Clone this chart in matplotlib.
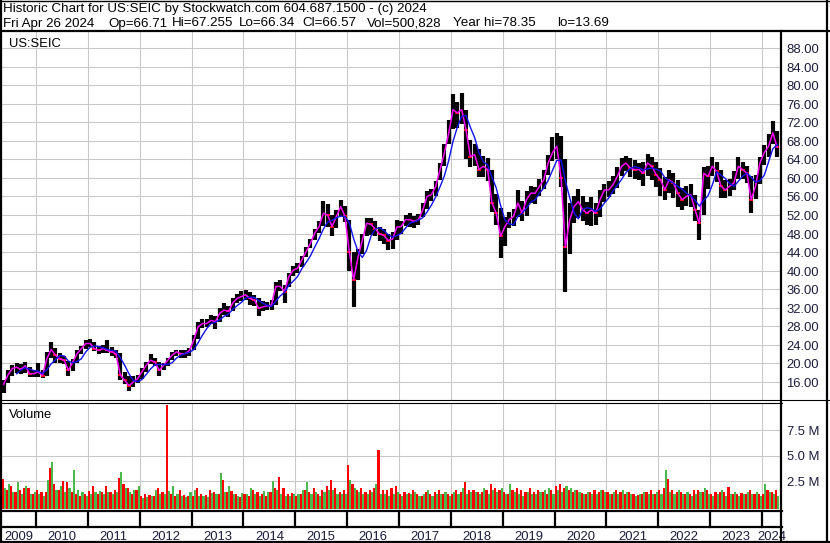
import numpy as np
import pandas as pd
import matplotlib
matplotlib.use("Agg")
import matplotlib.pyplot as plt
from matplotlib.lines import Line2D

plt.rcParams['font.family'] = ['Liberation Sans', 'DejaVu Sans']

W, H = 830, 543

# monthly bars, May 2009 .. Apr 2024
first_month = "2009-05"
close = [15.5, 17.5, 18.9, 19.2, 18.7, 19.5, 17.8, 17.8,
         18.2, 17.4, 21.0, 23.0, 21.8, 21.0, 20.7, 18.5, 20.3, 22.1, 23.2, 24.3,
         24.3, 23.2, 22.8, 23.2, 22.8, 22.5, 22.1, 17.5, 16.4, 15.2, 16.0, 16.7,
         18.2, 19.6, 20.7, 20.3, 18.5, 19.6, 20.7, 21.8, 22.5, 22.1, 22.1, 22.8,
         25.0, 27.9, 28.6, 28.6, 29.3, 29.0, 30.8, 31.5, 31.2, 33.0, 34.0, 34.4,
         34.8, 34.0, 33.7, 31.9, 32.2, 32.4, 32.6, 36.6, 36.6, 35.5, 38.7, 40.1,
         40.5, 42.3, 44.1, 45.9, 48.1, 49.5, 52.4, 52.0, 49.5, 51.7, 53.8, 51.7,
         44.0, 38.0, 42.9, 46.5, 50.2, 50.0, 49.0, 47.9, 47.6, 46.5, 46.8, 49.4,
         49.5, 51.0, 51.0, 50.6, 51.0, 53.1, 56.0, 56.4, 58.2, 61.8, 65.4, 69.7,
         74.7, 74.0, 74.7, 70.4, 64.6, 65.0, 61.8, 62.5, 61.8, 54.6, 52.4, 47.4,
         49.5, 51.0, 51.7, 54.6, 52.4, 55.3, 56.7, 56.7, 58.2, 59.6, 63.2, 65.4,
         66.8, 60.0, 45.0, 51.0, 53.8, 54.9, 53.1, 52.4, 53.1, 52.4, 55.3, 57.4,
         57.4, 58.5, 60.3, 62.5, 63.2, 62.1, 61.8, 61.8, 61.0, 63.2, 62.5, 60.7,
         59.6, 57.4, 59.6, 58.9, 56.7, 55.3, 56.0, 56.4, 53.1, 50.2, 61.0, 60.3,
         62.5, 61.4, 58.2, 57.4, 58.2, 58.9, 62.5, 61.8, 61.0, 55.3, 58.2, 63.2,
         65.4, 66.8, 69.7, 66.6]
high = [16.5, 18.5, 19.6, 20.0, 19.8, 20.4, 19.2, 18.6,
        20.0, 18.6, 22.5, 24.6, 23.4, 22.2, 21.6, 20.5, 21.0, 22.8, 23.8, 25.0,
        25.2, 24.6, 23.8, 24.0, 25.0, 23.6, 23.0, 22.2, 18.2, 17.4, 17.2, 17.6,
        19.0, 20.4, 22.0, 21.2, 20.4, 20.2, 21.2, 22.4, 23.0, 23.0, 22.8, 23.4,
        26.2, 29.0, 29.6, 29.6, 30.4, 30.2, 32.0, 33.0, 32.4, 34.0, 35.0, 35.6,
        35.8, 35.4, 34.8, 34.0, 33.4, 33.2, 33.6, 37.6, 38.0, 37.0, 39.6, 41.0,
        41.6, 43.2, 45.0, 46.8, 49.0, 50.6, 55.0, 54.4, 52.0, 53.0, 55.2, 54.0,
        51.0, 44.0, 44.6, 48.0, 51.4, 51.4, 50.6, 49.4, 49.0, 48.0, 48.4, 51.0,
        50.8, 52.0, 52.4, 51.8, 52.2, 54.6, 57.2, 57.6, 59.4, 63.2, 67.2, 72.4,
        78.0, 76.4, 78.3, 74.6, 68.2, 67.4, 66.2, 64.8, 64.2, 61.6, 56.6, 53.4,
        51.6, 52.6, 53.2, 57.4, 55.0, 57.2, 58.2, 58.0, 59.8, 61.6, 65.0, 68.8,
        69.6, 69.0, 64.0, 54.6, 56.2, 57.6, 56.0, 54.8, 55.8, 54.6, 57.4, 58.6,
        59.4, 60.4, 62.4, 64.2, 64.8, 64.2, 63.8, 63.2, 63.4, 65.2, 64.6, 63.4,
        62.2, 60.2, 61.6, 61.0, 59.6, 57.8, 58.2, 58.6, 56.4, 53.0, 62.4, 62.6,
        64.6, 63.4, 61.6, 59.6, 59.8, 61.4, 64.4, 63.4, 62.6, 60.4, 60.6, 64.6,
        67.0, 69.4, 72.3, 70.0]
low = [13.7, 15.8, 17.4, 18.0, 17.8, 18.0, 17.0, 17.0,
       17.0, 16.8, 17.4, 21.2, 20.0, 20.2, 19.8, 17.4, 18.4, 20.2, 22.0, 23.2,
       23.6, 22.6, 22.0, 22.2, 22.2, 21.6, 21.2, 16.4, 15.6, 14.1, 15.0, 15.8,
       16.6, 18.2, 19.8, 19.4, 17.3, 18.6, 19.4, 20.8, 21.6, 21.2, 21.2, 21.6,
       22.8, 25.2, 27.6, 27.8, 28.4, 27.5, 29.0, 30.4, 30.0, 31.2, 33.0, 33.4,
       33.6, 32.6, 32.4, 30.2, 31.2, 31.6, 31.6, 32.6, 35.6, 33.0, 36.4, 38.8,
       39.4, 40.8, 43.0, 44.8, 46.6, 48.2, 49.6, 49.4, 47.4, 49.2, 51.8, 50.4,
       40.0, 32.2, 38.0, 43.6, 47.4, 47.6, 47.4, 46.4, 45.8, 44.4, 44.6, 46.6,
       48.0, 49.6, 49.4, 49.2, 49.8, 51.6, 53.2, 55.0, 56.2, 59.6, 62.6, 67.4,
       70.6, 70.8, 71.6, 64.0, 62.4, 62.6, 60.2, 60.2, 59.4, 52.6, 49.8, 42.8,
       45.4, 49.2, 49.6, 51.6, 50.6, 51.8, 54.6, 54.4, 56.2, 57.6, 60.6, 63.6,
       64.0, 58.0, 35.5, 43.6, 50.2, 51.4, 50.6, 49.8, 49.6, 49.8, 51.6, 54.8,
       55.8, 56.6, 57.8, 60.4, 61.4, 60.2, 59.8, 59.6, 58.2, 60.4, 59.6, 58.0,
       56.2, 55.2, 56.8, 55.6, 53.8, 53.0, 54.0, 53.8, 50.8, 46.6, 52.0, 57.6,
       60.4, 59.2, 55.6, 55.6, 56.0, 57.4, 59.8, 59.8, 59.0, 52.4, 55.4, 58.6,
       62.8, 64.6, 67.4, 64.6]

# largest down-day (red) and up-day (green) volume in each month, millions
vol_down = [2.7, 1.6, 2.0, 1.4, 1.6, 1.8, 1.8, 1.2,
            1.6, 1.4, 1.4, 3.8, 2.2, 1.6, 2.5, 2.4, 1.4, 1.2, 1.0, 1.2,
            1.5, 2.0, 1.2, 1.4, 2.0, 1.4, 1.6, 2.8, 2.2, 1.8, 1.2, 1.6,
            1.0, 1.2, 1.1, 1.0, 1.8, 1.4, 10.0, 1.2, 1.0, 1.6, 1.1, 1.0,
            1.0, 1.8, 1.2, 1.1, 1.6, 1.4, 1.2, 2.6, 1.4, 1.5, 1.2, 0.9,
            1.2, 1.0, 1.6, 1.4, 1.2, 1.0, 1.4, 1.8, 2.9, 1.8, 1.2, 1.3,
            1.0, 1.2, 1.6, 1.4, 1.8, 1.2, 1.6, 2.0, 2.6, 1.8, 1.4, 1.6,
            4.1, 2.2, 1.6, 1.8, 1.4, 1.6, 1.8, 5.5, 1.6, 1.6, 1.8, 2.0,
            1.2, 1.4, 1.3, 1.6, 1.2, 1.0, 1.4, 1.2, 1.4, 1.6, 1.2, 1.2,
            1.2, 1.6, 1.4, 2.4, 1.6, 1.6, 1.4, 1.4, 1.6, 2.2, 1.8, 1.6,
            1.4, 1.2, 1.6, 1.8, 1.6, 1.4, 1.8, 1.4, 1.6, 1.4, 1.2, 1.6,
            2.0, 2.2, 1.8, 1.6, 1.4, 1.6, 1.3, 1.2, 1.4, 1.6, 1.4, 1.6,
            1.4, 1.2, 1.6, 1.4, 1.2, 1.4, 1.2, 1.1, 1.2, 1.4, 1.6, 1.2,
            1.6, 1.8, 2.7, 1.6, 1.4, 1.4, 1.2, 1.2, 1.6, 1.6, 1.4, 1.6,
            1.2, 1.4, 1.4, 1.4, 1.9, 1.2, 1.2, 1.3, 1.2, 1.6, 1.2, 1.2,
            1.2, 1.6, 1.4, 1.6]
vol_up = [1.8, 2.2, 1.4, 2.4, 1.2, 2.0, 1.2, 1.4,
          1.2, 1.0, 2.6, 4.4, 1.6, 2.0, 1.4, 1.8, 3.6, 1.6, 1.4, 1.0,
          1.2, 1.4, 1.5, 1.2, 1.4, 1.2, 1.4, 3.4, 1.8, 1.4, 1.6, 2.0,
          0.8, 0.9, 1.0, 1.6, 1.2, 1.2, 1.5, 2.0, 1.2, 1.0, 0.9, 1.4,
          1.6, 1.0, 1.0, 0.9, 1.3, 1.2, 3.3, 1.4, 2.0, 1.2, 1.0, 1.3,
          1.2, 1.8, 1.2, 1.0, 1.5, 1.4, 2.5, 1.6, 1.2, 1.0, 1.0, 1.2,
          1.2, 1.6, 2.4, 1.2, 1.4, 1.0, 1.4, 1.6, 1.6, 1.2, 1.2, 1.2,
          2.6, 1.8, 1.4, 1.2, 1.2, 1.4, 2.2, 1.2, 1.2, 1.0, 1.2, 1.4,
          1.0, 1.2, 1.2, 1.4, 1.0, 1.2, 1.6, 1.0, 1.2, 1.2, 1.4, 1.0,
          1.4, 1.2, 1.8, 1.2, 1.4, 1.4, 1.2, 1.8, 1.2, 1.6, 1.4, 1.8,
          1.2, 2.2, 1.4, 1.2, 1.0, 1.4, 1.2, 1.2, 1.4, 1.6, 1.8, 1.2,
          1.6, 1.4, 2.0, 1.8, 1.6, 1.4, 1.2, 1.4, 1.2, 1.2, 1.6, 1.4,
          1.2, 1.4, 1.2, 1.6, 1.4, 1.2, 1.0, 1.2, 1.4, 1.2, 1.2, 1.4,
          1.2, 3.6, 1.4, 1.2, 1.6, 1.2, 1.4, 1.0, 1.2, 1.4, 1.8, 1.2,
          1.0, 1.2, 1.6, 1.0, 1.2, 1.4, 1.0, 1.2, 1.4, 1.2, 1.4, 1.0,
          2.2, 1.4, 1.2, 1.0]

price_ticks = [16, 20, 24, 28, 32, 36, 40, 44, 48, 52, 56, 60, 64, 68, 72, 76, 80, 84, 88]
vol_ticks = [2.5, 5.0, 7.5]
years = list(range(2009, 2025))

header1 = "Historic Chart for US:SEIC by Stockwatch.com 604.687.1500 - (c) 2024"
header2 = [(3, "Fri Apr 26 2024"), (108, "Op=66.71"), (172, "Hi=67.255"), (239, "Lo=66.34"),
           (302, "Cl=66.57"), (367, "Vol=500,828"), (453, "Year hi=78.35"), (557, "lo=13.69")]

months = pd.period_range(first_month, periods=len(close), freq="M")
x = np.asarray(months.year + (months.month - 0.5) / 12.0, dtype=float)
close_s = pd.Series(close)
ma_long = close_s.rolling(4).mean()  # slow average, lags the price
down = np.r_[False, np.diff(close) < 0]

X0, X1 = 2009.344, 2024.385
GRID = "#c8c8c8"
LBL = "#1c1c3c"
FS = 9.4


def fx(px):
    return px / W


def fy(py):
    return 1 - py / H


fig = plt.figure(figsize=(W / 100, H / 100), dpi=100, facecolor="white")

# price panel
ax = fig.add_axes([fx(2), fy(400), fx(780), 369 / H])
ax.set_xlim(X0, X1)
ax.set_ylim(12.12, 91.66)
for t in price_ticks:
    ax.axhline(t, color=GRID, lw=0.75, zorder=0)
for yr in years[1:]:
    ax.axvline(yr, color=GRID, lw=0.75, zorder=0)
ax.vlines(x, low, high, colors="black", lw=3.0, zorder=2)
ax.plot(x[down], np.asarray(close)[down], "_", color="red", ms=3, mew=1.4, zorder=3)
ax.plot(x, close, color="#ff00ff", lw=1.1, zorder=4)
ax.plot(x, ma_long, color="#1010f0", lw=1.0, zorder=5)
ax.axis("off")

# volume panel
vax = fig.add_axes([fx(2), fy(510), fx(780), 107.3 / H])
vax.set_xlim(X0, X1)
vax.set_ylim(-0.34, 10.18)
for t in vol_ticks:
    vax.axhline(t, color=GRID, lw=0.75, zorder=0)
for yr in years[1:]:
    vax.axvline(yr, color=GRID, lw=0.75, zorder=0)
half = 1 / 24.0
vax.bar(x - half / 2, np.asarray(vol_down) + 0.25, width=half, bottom=-0.25,
        color="#ff0000", lw=0, zorder=2)
vax.bar(x + half / 2, np.asarray(vol_up) + 0.25, width=half, bottom=-0.25,
        color="#4cb84c", lw=0, zorder=2)
vax.axis("off")

# year band
yax = fig.add_axes([fx(2), fy(541), fx(780), 31 / H])
yax.set_xlim(X0, X1)
yax.set_ylim(31, 0)
for yr in years[1:]:
    yax.plot([yr, yr], [0, 16.5], color="black", lw=1.6)
for yr in years:
    a, b = max(yr, X0), min(yr + 1, X1)
    yax.text((a + b) / 2, 29.5, str(yr), ha="center", va="baseline", fontsize=FS, color=LBL)
yax.axis("off")


def hline(y, x0, x1, lw):
    fig.add_artist(Line2D([fx(x0), fx(x1)], [fy(y), fy(y)], color="black", lw=lw))


def vline(xp, y0, y1, lw):
    fig.add_artist(Line2D([fx(xp), fx(xp)], [fy(y0), fy(y1)], color="black", lw=lw))


# frame and separators
hline(0.5, 0, W, 1.0)
hline(541.5, 0, W, 1.6)
vline(1, 0, H, 1.6)
vline(827, 0, H, 1.6)
hline(30.5, 0, W, 1.6)
hline(400, 0, W, 0.8)
hline(402.6, 0, 782, 0.8)
hline(510.5, 0, 782, 1.6)
hline(526.5, 0, 782, 1.6)
vline(781, 31, H, 1.6)

# texts
fig.text(fx(3), fy(12), header1, fontsize=9.6, va="baseline", ha="left")
for xp, s in header2:
    fig.text(fx(xp), fy(26.5), s, fontsize=9.6, va="baseline", ha="left")
fig.text(fx(9), fy(46.5), "US:SEIC", fontsize=FS, va="baseline", ha="left")
fig.text(fx(9), fy(418), "Volume", fontsize=FS, va="baseline", ha="left")

p_per_px = (91.66 - 12.12) / 369.0
for t in price_ticks:
    ypx = 31 + (91.66 - t) / p_per_px
    fig.text(fx(786.5), fy(ypx + 5), f"{t:.2f}", fontsize=FS, va="baseline", ha="left", color=LBL)
v_per_px = (10.18 + 0.34) / 107.3
for t in vol_ticks:
    ypx = 402.7 + (10.18 - t) / v_per_px
    fig.text(fx(786.5), fy(ypx + 4.5), f"{t:.1f} M", fontsize=FS, va="baseline", ha="left", color=LBL)

fig.savefig("out.png", dpi=100, facecolor="white")
